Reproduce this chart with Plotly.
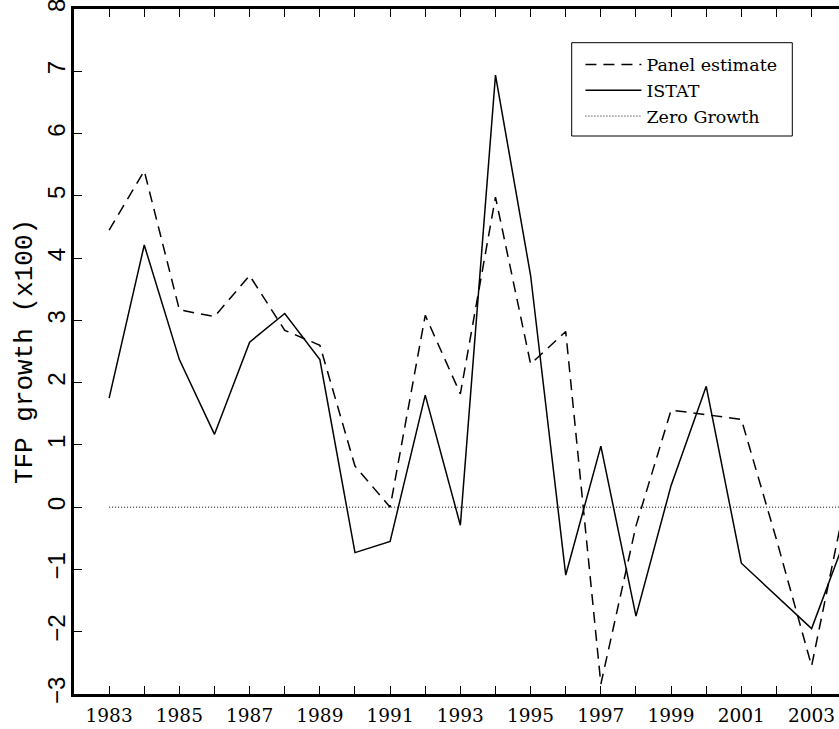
import plotly.graph_objects as go

years = list(range(1983, 2005))
panel_estimate = [4.45, 5.40, 3.17, 3.06, 3.72, 2.84, 2.60, 0.66, 0.00, 3.08, 1.82,
                  4.98, 2.30, 2.82, -2.84, -0.30, 1.56, 1.49, 1.41, -0.52, -2.55, 0.20]
istat = [1.75, 4.21, 2.37, 1.17, 2.65, 3.11, 2.37, -0.73, -0.55, 1.80, -0.29,
         6.94, 3.72, -1.09, 0.98, -1.75, 0.35, 1.94, -0.90, -1.43, -1.95, -0.44]
zero_growth = [0.0] * len(years)

x_tickvals = years
x_ticktext = [str(y) if (y - 1983) % 2 == 0 else "" for y in years]
y_tickvals = [-3, -2, -1, 0, 1, 2, 3, 4, 5, 6, 7, 8]

fig = go.Figure()
fig.add_trace(go.Scatter(x=years, y=panel_estimate, mode="lines", name="Panel estimate",
                         line=dict(color="black", width=1.5, dash="11px,7px")))
fig.add_trace(go.Scatter(x=years, y=istat, mode="lines", name="ISTAT",
                         line=dict(color="black", width=1.5)))
fig.add_trace(go.Scatter(x=years, y=zero_growth, mode="lines", name="Zero Growth",
                         line=dict(color="black", width=1, dash="1px,2px")))

fig.update_layout(
    width=839, height=729,
    margin=dict(l=74, r=0, t=9, b=35),
    paper_bgcolor="white", plot_bgcolor="white",
    showlegend=True,
    legend=dict(x=0.662, y=0.945, xanchor="left", yanchor="top",
                bgcolor="rgba(0,0,0,0)", borderwidth=0,
                font=dict(family="DejaVu Serif", size=17.5, color="black"),
                itemwidth=56),
    shapes=[dict(type="rect", xref="paper", yref="paper",
                 x0=(571.7 - 74) / 765, x1=(792.3 - 74) / 765,
                 y0=(694 - 136) / 685, y1=(694 - 42.7) / 685,
                 line=dict(color="black", width=1), fillcolor="rgba(0,0,0,0)")],
)
fig.update_xaxes(range=[1982, 2003.78], tickvals=x_tickvals, ticktext=x_ticktext,
                 ticks="inside", ticklen=8, tickwidth=1.3, tickcolor="black",
                 showline=True, linecolor="black", linewidth=2.5, mirror="allticks",
                 showgrid=False, zeroline=False, automargin=False,
                 ticklabelstandoff=3, ticklabeloverflow="allow",
                 tickfont=dict(family="DejaVu Serif", size=18.5, color="black"))
fig.update_yaxes(range=[-3, 8], tickvals=y_tickvals,
                 ticks="inside", ticklen=8, tickwidth=1.3, tickcolor="black",
                 showline=True, linecolor="black", linewidth=3,
                 showgrid=False, zeroline=False, tickangle=-90, automargin=False,
                 ticklabelstandoff=-4, ticklabeloverflow="allow",
                 tickfont=dict(family="Liberation Sans", size=24, color="black"),
                 title=dict(text="TFP growth (x100)", standoff=4,
                            font=dict(family="Liberation Mono", size=26, color="black")))

fig.write_html("out.html", config={"displayModeBar": False},
               post_script="document.body.style.margin='0';document.body.style.padding='0';")
